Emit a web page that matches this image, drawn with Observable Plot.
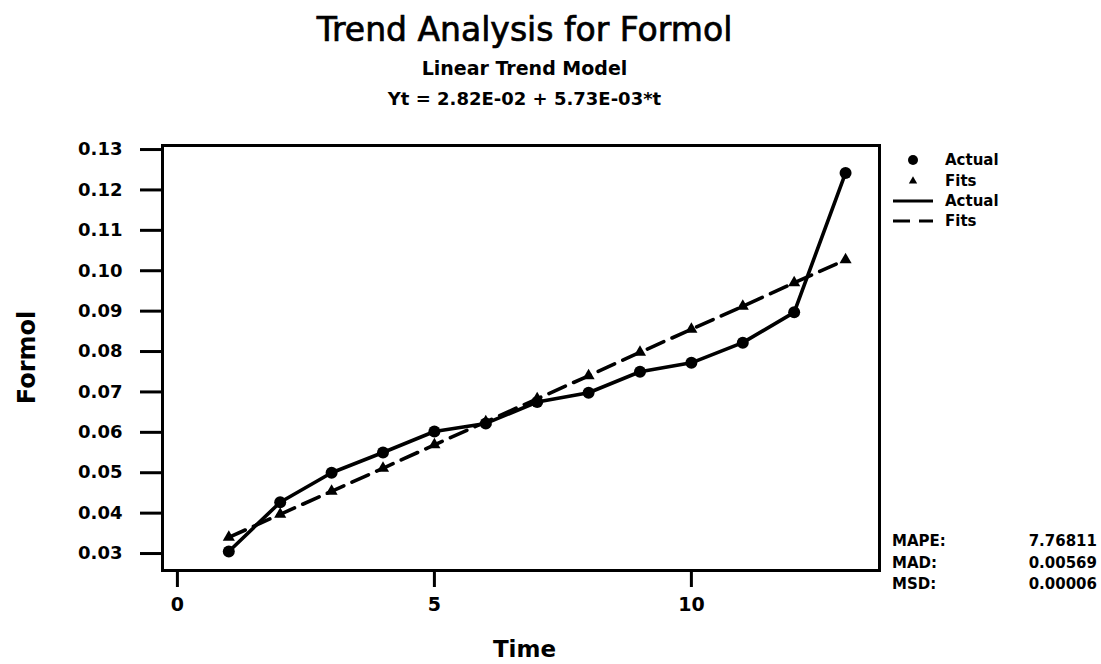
<!DOCTYPE html>
<html><head><meta charset="utf-8">
<script src="https://cdn.jsdelivr.net/npm/d3@7"></script>
<script src="https://cdn.jsdelivr.net/npm/@observablehq/plot@0.6"></script>
<style>
body{margin:0;background:#fff}
svg text{fill:#000}
</style>
</head><body><div id="chart"></div>
<script>
const time = [1, 2, 3, 4, 5, 6, 7, 8, 9, 10, 11, 12, 13];
const actual = [0.0305, 0.0427, 0.0500, 0.0550, 0.0602, 0.0622, 0.0675, 0.0698, 0.0750, 0.0772, 0.0822, 0.0897, 0.1242];
const fits = [0.0340, 0.0397, 0.0454, 0.0511, 0.0569, 0.0626, 0.0683, 0.0740, 0.0798, 0.0855, 0.0912, 0.0970, 0.1027];
const xTicks = [0, 5, 10];
const yTicks = [0.03, 0.04, 0.05, 0.06, 0.07, 0.08, 0.09, 0.10, 0.11, 0.12, 0.13];
const titleText = "Trend Analysis for Formol";
const subtitleText = "Linear Trend Model";
const equationText = "Yt = 2.82E-02 + 5.73E-03*t";
const xLabel = "Time";
const yLabel = "Formol";
const legendLabels = ["Actual", "Fits", "Actual", "Fits"];
const statLabels = ["MAPE:", "MAD:", "MSD:"];
const statValues = ["7.76811", "0.00569", "0.00006"];

const rows = time.map((t, i) => ({t, actual: actual[i], fit: fits[i]}));

const W = 1101, H = 664;
const mL = 162, mR = 222, mT = 145, mB = 94;
const font = "'DejaVu Sans', sans-serif";

const chart = Plot.plot({
  width: W, height: H,
  marginLeft: mL, marginRight: mR, marginTop: mT, marginBottom: mB,
  style: {fontFamily: font, background: "#fff", color: "#000", overflow: "visible"},
  x: {domain: [-0.29, 13.66]},
  y: {domain: [0.0258, 0.131]},
  marks: [
    Plot.frame({stroke: "#000", strokeWidth: 3}),
    Plot.axisX({ticks: xTicks, tickSize: 17, tickPadding: 10, tickFormat: d3.format("d"),
      strokeWidth: 3, fontSize: 19, fontWeight: "bold", label: null}),
    Plot.axisY({ticks: yTicks, tickSize: 22, tickFormat: () => "", strokeWidth: 3, label: null}),
    Plot.axisY({ticks: yTicks, tickSize: 0, tickPadding: 3, dx: -37, tickFormat: d3.format(".2f"),
      fontSize: 18, fontWeight: "bold", label: null}),
    Plot.line(rows, {x: "t", y: "fit", stroke: "#000", strokeWidth: 3.6, strokeDasharray: "18,9"}),
    Plot.line(rows, {x: "t", y: "actual", stroke: "#000", strokeWidth: 3.6}),
    Plot.dot(rows, {x: "t", y: "fit", symbol: "triangle", r: 4.5, fill: "#000", stroke: "none"}),
    Plot.dot(rows, {x: "t", y: "actual", r: 6, fill: "#000", stroke: "none"})
  ]
});
document.getElementById("chart").appendChild(chart);

const svg = d3.select(chart);
const fx0 = mL, fx1 = W - mR, fy0 = mT, fy1 = H - mB;
const cx = (fx0 + fx1) / 2 + 4;

function txt(x, y, s, size, weight, anchor) {
  return svg.append("text").attr("x", x).attr("y", y).attr("text-anchor", anchor || "middle")
    .style("font-family", font).style("font-size", size + "px").style("font-weight", weight || "normal").text(s);
}
txt(cx, 41, titleText, 33, "normal").style("stroke", "#000").style("stroke-width", "0.7px");
txt(cx, 75, subtitleText, 19, "bold");
txt(cx, 105, equationText, 18, "bold");
txt(cx, 657, xLabel, 23, "bold");
svg.append("text").attr("transform", `translate(35,${(fy0 + fy1) / 2}) rotate(-90)`).attr("text-anchor", "middle")
  .style("font-family", font).style("font-size", "24px").style("font-weight", "bold").text(yLabel);

// legend
const lx = fx1 + 34, tx = fx1 + 66;
const ly = [fy0 + 15, fy0 + 36, fy0 + 56, fy0 + 76];
svg.append("circle").attr("cx", lx).attr("cy", ly[0]).attr("r", 5).attr("fill", "#000");
svg.append("path").attr("d", d3.symbol(d3.symbolTriangle, 30)()).attr("fill", "#000").attr("transform", `translate(${lx},${ly[1]})`);
svg.append("line").attr("x1", fx1 + 14).attr("x2", fx1 + 54).attr("y1", ly[2]).attr("y2", ly[2]).attr("stroke", "#000").attr("stroke-width", 3);
svg.append("line").attr("x1", fx1 + 14).attr("x2", fx1 + 54).attr("y1", ly[3]).attr("y2", ly[3]).attr("stroke", "#000").attr("stroke-width", 3).attr("stroke-dasharray", "17,9");
legendLabels.forEach((s, i) => {
  txt(tx, ly[i], s, 15, "bold", "start").attr("dy", "0.35em");
});

// stats
const sy = [fy1 - 29, fy1 - 7, fy1 + 14];
statLabels.forEach((s, i) => {
  txt(fx1 + 13, sy[i], s, 15, "bold", "start").attr("dy", "0.35em");
  txt(W - 4, sy[i], statValues[i], 15, "bold", "end").attr("dy", "0.35em");
});
</script>
</body></html>
